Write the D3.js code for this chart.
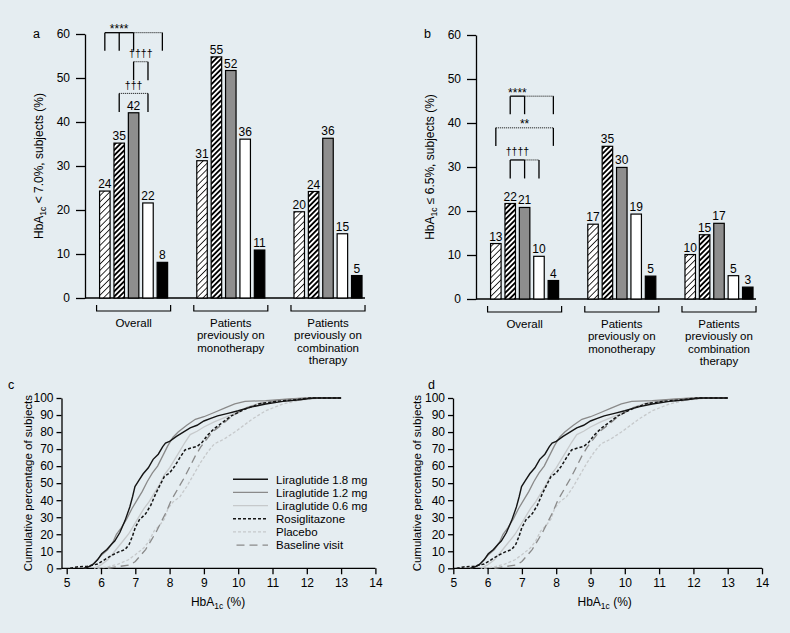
<!DOCTYPE html>
<html>
<head>
<meta charset="utf-8">
<script src="https://cdn.jsdelivr.net/npm/d3@7"></script>
<style>
  body { margin: 0; background: #e5edf1; }
  svg { display: block; font-family: "Liberation Sans", Arial, Helvetica, sans-serif; }
</style>
</head>
<body>
<div id="chart"></div>
<script>
// ---- data ----
const groupNames = ["Overall", "Patients previously on monotherapy", "Patients previously on combination therapy"];
const groupLabelLines = [["Overall"], ["Patients", "previously on", "monotherapy"], ["Patients", "previously on", "combination", "therapy"]];
const treatments = ["Liraglutide 0.6 mg", "Liraglutide 1.2 mg", "Liraglutide 1.8 mg", "Rosiglitazone", "Placebo"];
const barTicks = [0, 10, 20, 30, 40, 50, 60];

// % of subjects with HbA1c < 7.0% (panel a), one row per group, one value per treatment
const below70 = [
  [24.3, 35.2, 42.1, 21.6, 8.1],
  [31.2, 54.8, 51.7, 36.1, 10.9],
  [19.6, 24.2, 36.3, 14.6, 5.1]
];
// % of subjects with HbA1c <= 6.5% (panel b)
const below65 = [
  [12.6, 21.7, 20.8, 9.7, 4.2],
  [17.0, 34.7, 29.9, 19.3, 5.2],
  [10.1, 14.6, 17.2, 5.3, 2.7]
];

// significance brackets, in bar index + data units
const sigA = [
  {label: "****", bars: [0, 1, 2, 4], solidTo: 2, top: 60.3, bottom: 56.2, kind: "star"},
  {label: "††††", bars: [2, 3], solidTo: 2, top: 53.7, bottom: 49.5, kind: "dagger"},
  {label: "†††", bars: [1, 3], solidTo: 1, top: 46.5, bottom: 42.3, kind: "dagger"}
];
const sigB = [
  {label: "****", bars: [1, 2, 4], solidTo: 2, top: 46.1, bottom: 42.0, kind: "star"},
  {label: "**", bars: [0, 4], solidTo: 0, top: 38.9, bottom: 34.8, kind: "star"},
  {label: "††††", bars: [1, 2, 3], solidTo: 2, top: 31.6, bottom: 27.4, kind: "dagger"}
];

// cumulative distributions [HbA1c %, cumulative % of subjects]
const xTicksCdf = [5, 6, 7, 8, 9, 10, 11, 12, 13, 14];
const yTicksCdf = [0, 10, 20, 30, 40, 50, 60, 70, 80, 90, 100];
const lira18 = [[5.5,0],[5.6,0.5],[5.75,2],[5.9,5],[6.02,8.5],[6.17,11],[6.3,14],[6.4,16],[6.55,21],[6.7,28],[6.84,36],[6.92,42],[6.99,48],[7.1,51.5],[7.23,55.5],[7.38,59],[7.52,64],[7.67,67],[7.8,71.5],[7.88,73.5],[8.0,74.5],[8.2,77.5],[8.4,80],[8.6,82.5],[8.8,84],[9.0,86.5],[9.2,88],[9.4,89.5],[9.7,91],[10.0,92.5],[10.4,94.8],[10.8,96.5],[11.3,98],[11.8,99],[12.2,100],[13.0,100]];
const lira12 = [[5.5,0],[5.65,1],[5.8,3],[6.0,7.5],[6.2,11],[6.35,15.5],[6.45,20],[6.6,24],[6.75,29],[6.9,35],[7.05,40],[7.2,45],[7.35,51],[7.5,56],[7.65,60],[7.8,66],[7.95,72],[8.1,77],[8.25,80],[8.5,84],[8.75,87.5],[9.0,89],[9.3,91.5],[9.6,94],[9.9,96.5],[10.2,98],[10.8,98.5],[11.5,99.5],[12.0,100],[13.0,100]];
const lira06 = [[5.8,0],[6.0,2],[6.2,5],[6.4,10],[6.6,15],[6.8,20],[6.95,25],[7.1,30],[7.25,35],[7.4,39],[7.55,44],[7.7,49],[7.85,55],[8.0,59],[8.15,64],[8.3,69],[8.45,74],[8.6,78.5],[8.8,80.5],[9.0,83],[9.3,86],[9.6,88.5],[9.9,91],[10.25,94.5],[10.7,97.5],[11.3,99],[12.0,100],[13.0,100]];
const rosi = [[5.1,0],[5.3,0.8],[5.6,1.2],[5.9,2.5],[6.1,5],[6.3,7.5],[6.5,9.5],[6.7,11],[6.82,14],[6.92,19],[7.0,24],[7.12,28.5],[7.3,32],[7.45,37],[7.6,44],[7.75,50],[7.85,54],[8.0,56],[8.15,60],[8.3,65],[8.45,69.5],[8.6,70.5],[8.8,71.5],[8.95,74],[9.1,78],[9.3,82],[9.5,85],[9.8,89.5],[10.2,93.5],[10.6,96.5],[11.1,98],[11.6,98.8],[12.1,100],[13.0,100]];
const placebo = [[5.9,0],[6.2,0.8],[6.5,2.5],[6.8,5],[7.0,8],[7.25,12],[7.4,16],[7.55,22],[7.7,25],[7.85,29],[7.95,35],[8.1,39],[8.3,42],[8.5,48],[8.7,55],[8.9,62],[9.1,68],[9.3,73],[9.6,76],[9.9,80],[10.1,83],[10.4,87.5],[10.8,92.5],[11.3,96.5],[11.8,98.7],[12.3,100],[13.0,100]];
const baselineVisit = [[6.2,0],[6.5,1],[6.85,2],[7.0,4],[7.15,7.5],[7.3,11],[7.45,16],[7.6,21],[7.75,27],[7.9,33],[8.05,40],[8.25,47],[8.45,54],[8.6,60],[8.75,66],[8.9,71],[9.05,75],[9.25,80],[9.5,84],[9.8,89],[10.2,94],[10.6,96.5],[11.1,98.5],[11.8,99.5],[12.5,100],[13.0,100]];

const cdfSeries = [
  {name: "Liraglutide 1.8 mg", values: lira18, color: "#141414", dash: null, width: 1.4},
  {name: "Liraglutide 1.2 mg", values: lira12, color: "#8a8a8a", dash: null, width: 1.3},
  {name: "Liraglutide 0.6 mg", values: lira06, color: "#c6c9cb", dash: null, width: 1.3},
  {name: "Rosiglitazone", values: rosi, color: "#141414", dash: "3,2", width: 1.5},
  {name: "Placebo", values: placebo, color: "#c6c9cb", dash: "3,2", width: 1.3},
  {name: "Baseline visit", values: baselineVisit, color: "#8a8a8a", dash: "8,5", width: 1.3}
];

const barFills = ["url(#hatchLight)", "url(#hatchHeavy)", "#8e8e8e", "#ffffff", "#000000"];
const FS = 12;

// ---- drawing ----
const svg = d3.select("#chart").append("svg")
  .attr("width", 790)
  .attr("height", 633);

svg.append("rect").attr("width", 790).attr("height", 633).attr("fill", "#e5edf1");

const defs = svg.append("defs");
function addHatch(id, size, lw) {
  const p = defs.append("pattern")
    .attr("id", id)
    .attr("patternUnits", "userSpaceOnUse")
    .attr("width", size).attr("height", size)
    .attr("patternTransform", "rotate(45)");
  p.append("rect").attr("width", size).attr("height", size).attr("fill", "#fff");
  p.append("line").attr("x1", size / 2).attr("y1", 0).attr("x2", size / 2).attr("y2", size)
    .attr("stroke", "#000").attr("stroke-width", lw);
}
addHatch("hatchLight", 4.4, 0.8);
addHatch("hatchHeavy", 3.7, 1.9);

//writes "before HbA1c after" with subscript 1c
function hbaText(sel, before, after) {
  sel.append("tspan").text(before + "HbA");
  sel.append("tspan").attr("font-size", 8.5).attr("dy", 3).text("1c");
  sel.append("tspan").attr("dy", -3).text(after);
}

function styleAxis(g) {
  g.attr("font-family", null).attr("font-size", FS);
  g.selectAll("line, path").attr("stroke", "#000").attr("stroke-width", 1.3);
  g.selectAll("text").attr("fill", "#000");
}

function drawBarPanel(cfg) {
  const g = svg.append("g");
  const y = d3.scaleLinear().domain([0, 60]).range([cfg.y0, cfg.y0 - 264]);
  const x0 = d3.scaleBand().domain(groupNames)
    .range([cfg.axisX, cfg.axisX + 291.6])
    .paddingInner(0.3).paddingOuter(0.15);
  const x1 = d3.scaleBand().domain(d3.range(treatments.length))
    .range([0, x0.bandwidth()])
    .paddingInner(0.27);

  g.append("g")
    .attr("transform", `translate(${cfg.axisX},0)`)
    .call(d3.axisLeft(y).tickValues(barTicks).tickSize(9).tickSizeOuter(0).tickPadding(6))
    .call(styleAxis);

  g.append("line")
    .attr("x1", cfg.axisX).attr("x2", cfg.axisX + 280)
    .attr("y1", y(0)).attr("y2", y(0))
    .attr("stroke", "#000").attr("stroke-width", 1.3);

  const fmt = d3.format(".0f");
  groupNames.forEach((grp, gi) => {
    const gx = x0(grp);
    cfg.values[gi].forEach((v, ti) => {
      g.append("rect")
        .attr("x", gx + x1(ti))
        .attr("y", y(v))
        .attr("width", x1.bandwidth())
        .attr("height", y(0) - y(v))
        .attr("fill", barFills[ti])
        .attr("stroke", "#000")
        .attr("stroke-width", 1.2);
      g.append("text")
        .attr("x", gx + x1(ti) + x1.bandwidth() / 2)
        .attr("y", y(v) - 3)
        .attr("text-anchor", "middle")
        .attr("font-size", FS)
        .text(fmt(v));
    });

    // bracket under each group
    const bx0 = gx - 3, bx1 = gx + x0.bandwidth() + 3, by = y(0) + 13;
    g.append("path")
      .attr("d", `M${bx0},${by - 6}V${by}H${bx1}V${by - 6}`)
      .attr("fill", "none").attr("stroke", "#000").attr("stroke-width", 1.2);
    const t = g.append("text")
      .attr("text-anchor", "middle")
      .attr("font-size", 11.5);
    groupLabelLines[gi].forEach((line, li) => {
      t.append("tspan")
        .attr("x", gx + x0.bandwidth() / 2)
        .attr("y", y(0) + 29 + li * 12.4)
        .text(line);
    });
  });

  // significance brackets in the Overall group
  const gx = x0(groupNames[0]);
  const cx = i => gx + x1(i) + x1.bandwidth() / 2;
  cfg.sig.forEach(s => {
    const yt = y(s.top), yb = y(s.bottom);
    const first = s.bars[0], last = s.bars[s.bars.length - 1];
    if (s.solidTo !== first) {
      g.append("line").attr("x1", cx(first)).attr("x2", cx(s.solidTo))
        .attr("y1", yt).attr("y2", yt)
        .attr("stroke", "#000").attr("stroke-width", 1.3);
    }
    if (s.solidTo !== last) {
      g.append("line").attr("x1", cx(s.solidTo)).attr("x2", cx(last))
        .attr("y1", yt).attr("y2", yt)
        .attr("stroke", "#000").attr("stroke-width", 1).attr("stroke-dasharray", "1,1");
    }
    s.bars.forEach(b => {
      g.append("line").attr("x1", cx(b)).attr("x2", cx(b))
        .attr("y1", yt).attr("y2", yb)
        .attr("stroke", "#000").attr("stroke-width", 1.3);
    });
    const labelX = s.solidTo !== first ? (cx(first) + cx(s.solidTo)) / 2 : (cx(first) + cx(last)) / 2;
    g.append("text")
      .attr("x", labelX)
      .attr("y", s.kind === "star" ? yt + 0.5 : yt - 4.5)
      .attr("text-anchor", "middle")
      .attr("font-size", s.kind === "star" ? 12 : 10.5)
      .text(s.label);
  });

  // y title
  const yt = g.append("text")
    .attr("transform", `translate(${cfg.titleX},${(y(0) + y(60)) / 2}) rotate(-90)`)
    .attr("text-anchor", "middle")
    .attr("font-size", FS);
  hbaText(yt, "", cfg.titleRest);

  g.append("text").attr("x", cfg.letterX).attr("y", 38).attr("font-size", 12.5).text(cfg.letter);
}

function drawCdfPanel(cfg) {
  const g = svg.append("g");
  const x = d3.scaleLinear().domain([5, 14]).range([cfg.x5, cfg.x5 + 9 * 34.3]);
  const y = d3.scaleLinear().domain([0, 100]).range([568.3, 398]);

  g.append("g")
    .attr("transform", `translate(${cfg.axisX},0)`)
    .call(d3.axisLeft(y).tickValues(yTicksCdf).tickSize(5).tickSizeOuter(0).tickPadding(3))
    .call(styleAxis);

  const xa = g.append("g")
    .attr("transform", `translate(0,${y(0)})`)
    .call(d3.axisBottom(x).tickValues(xTicksCdf).tickSize(6).tickPadding(4))
    .call(styleAxis);
  xa.select(".domain").remove();
  g.append("line").attr("x1", cfg.axisX).attr("x2", x(14))
    .attr("y1", y(0)).attr("y2", y(0))
    .attr("stroke", "#000").attr("stroke-width", 1.3);

  const line = d3.line().x(d => x(d[0])).y(d => y(d[1]));
  // draw lighter lines first so dark ones sit on top
  [4, 2, 5, 1, 3, 0].forEach(i => {
    const s = cdfSeries[i];
    g.append("path")
      .datum(s.values)
      .attr("d", line)
      .attr("fill", "none")
      .attr("stroke", s.color)
      .attr("stroke-width", s.width)
      .attr("stroke-dasharray", s.dash);
  });

  const xt = g.append("text")
    .attr("x", (x(5) + x(14)) / 2 - 3)
    .attr("y", 606)
    .attr("text-anchor", "middle")
    .attr("font-size", FS);
  hbaText(xt, "", " (%)");

  g.append("text")
    .attr("transform", `translate(${cfg.titleX},${(y(0) + y(100)) / 2}) rotate(-90)`)
    .attr("text-anchor", "middle")
    .attr("font-size", FS - 0.5)
    .text("Cumulative percentage of subjects");

  g.append("text").attr("x", cfg.letterX).attr("y", 389).attr("font-size", 12.5).text(cfg.letter);

  if (cfg.legend) {
    cdfSeries.forEach((s, i) => {
      const ly = 479.3 + i * 13.15;
      g.append("line")
        .attr("x1", i === 5 ? 236.5 : 233).attr("x2", 268)
        .attr("y1", ly).attr("y2", ly)
        .attr("stroke", s.color)
        .attr("stroke-width", s.width)
        .attr("stroke-dasharray", s.dash);
      g.append("text")
        .attr("x", 276).attr("y", ly + 4.2)
        .attr("font-size", 11.5)
        .text(s.name);
    });
  }
}

drawBarPanel({axisX: 85, y0: 298, values: below70, sig: sigA, titleX: 43, titleRest: " < 7.0%, subjects (%)", letter: "a", letterX: 33});
drawBarPanel({axisX: 476, y0: 299, values: below65, sig: sigB, titleX: 434, titleRest: " \u2264 6.5%, subjects (%)", letter: "b", letterX: 424});
drawCdfPanel({axisX: 61.5, x5: 66.7, titleX: 32, letter: "c", letterX: 8, legend: true});
drawCdfPanel({axisX: 453, x5: 453.3, titleX: 421, letter: "d", letterX: 428, legend: false});
</script>
</body>
</html>
